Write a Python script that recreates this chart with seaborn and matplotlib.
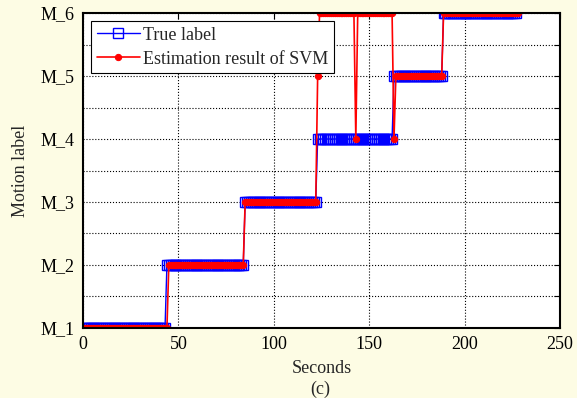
import numpy as np
import pandas as pd
import seaborn as sns
import matplotlib.pyplot as plt
from matplotlib.ticker import MultipleLocator

# step segments (seconds, motion label)
true_starts = [0, 44, 85, 123, 163, 189]
true_ends = [43, 84, 122, 162, 188, 227]
true_levels = [1, 2, 3, 4, 5, 6]

est_starts = [0, 45, 85, 123, 124, 143, 144, 163, 164, 189]
est_ends = [44, 84, 122, 123, 142, 143, 162, 163, 188, 228]
est_levels = [1, 2, 3, 5, 6, 4, 6, 4, 5, 6]

y_labels = ['M_1', 'M_2', 'M_3', 'M_4', 'M_5', 'M_6']


def expand(starts, ends, levels):
    t, v = [], []
    for s, e, l in zip(starts, ends, levels):
        pts = np.arange(s, e + 1)
        t.extend(pts)
        v.extend([l] * len(pts))
    return pd.DataFrame({'t': t, 'label': v})


true_df = expand(true_starts, true_ends, true_levels)
est_df = expand(est_starts, est_ends, est_levels)

sns.set_style('white')
plt.rcParams['font.family'] = ['Liberation Serif', 'DejaVu Serif']
fs = 13

bg = '#fdfce4'
fig = plt.figure(figsize=(5.77, 3.98), dpi=100, facecolor=bg)
ax = fig.add_axes([0.1438, 0.1759, 0.8267, 0.7914])
ax.set_facecolor('white')

sns.lineplot(data=true_df, x='t', y='label', ax=ax, color='blue', lw=1,
             marker='s', markersize=6.5, markerfacecolor='none',
             markeredgecolor='blue', markeredgewidth=1,
             estimator=None, sort=False, label='True label')
sns.lineplot(data=est_df, x='t', y='label', ax=ax, color='red', lw=1.2,
             marker='o', markersize=4.5, markeredgecolor='red',
             markerfacecolor='red', estimator=None, sort=False,
             label='Estimation result of SVM')

ax.set_xlim(0, 250)
ax.set_ylim(1, 6)
ax.xaxis.set_major_locator(MultipleLocator(50))
ax.set_yticks(true_levels)
ax.set_yticklabels(y_labels)
ax.yaxis.set_minor_locator(MultipleLocator(0.5))
ax.tick_params(which='both', direction='in', top=True, right=True,
               length=4, width=0.8, labelsize=fs, colors='black')
ax.tick_params(axis='x', pad=6)
ax.tick_params(axis='y', pad=6)
ax.grid(True, which='major', ls=':', color='black', lw=0.8)
ax.grid(True, which='minor', axis='y', ls=':', color='black', lw=0.8)
for sp in ax.spines.values():
    sp.set_color('black')
    sp.set_linewidth(1.5)

ax.set_xlabel('Seconds', fontsize=fs, labelpad=5)
ax.set_ylabel('Motion label', fontsize=fs, labelpad=8)
fig.text(0.555, 0.0, '(c)', ha='center', va='bottom', fontsize=fs)

leg = ax.legend(loc='upper left', fontsize=fs, handlelength=2.4,
                fancybox=False, framealpha=1, edgecolor='black',
                borderpad=0.3, labelspacing=0.4, handletextpad=0.2,
                borderaxespad=0.45)
leg.get_frame().set_linewidth(0.8)

fig.savefig('out.png', dpi=100, facecolor=bg)
